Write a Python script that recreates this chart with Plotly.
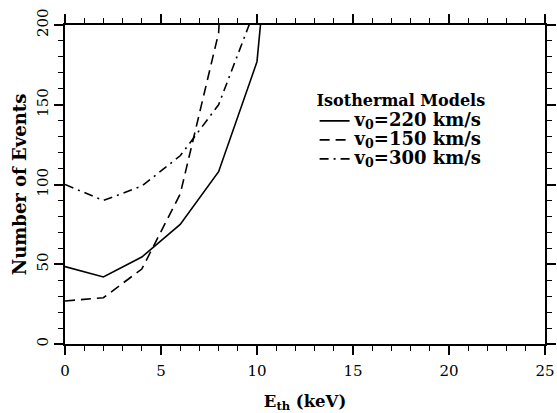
import plotly.graph_objects as go

# Data
e_th = [0, 2, 4, 6, 8, 10, 12]
n_220 = [48.5, 42, 54.5, 75, 108, 177, 433]
e_th_150 = [0, 2, 4, 6, 8, 10]
n_150 = [27, 29, 47, 94, 195, 600]
e_th_300 = [0, 2, 4, 6, 8, 10]
n_300 = [100, 90, 99, 118, 150, 213]

labels = ["v<sub>0</sub>=220 km/s", "v<sub>0</sub>=150 km/s", "v<sub>0</sub>=300 km/s"]
legend_title = "Isothermal Models"
x_range = [0, 25]
y_range = [0, 200]
x_major = [0, 5, 10, 15, 20, 25]
y_major = [0, 50, 100, 150, 200]

FONT = "DejaVu Serif"
names = ["<span style='font-size:18px'><b>%s</b></span>" % s for s in labels]

fig = go.Figure()
fig.add_trace(go.Scatter(x=e_th, y=n_220, mode="lines", name=names[0],
                         line=dict(color="black", width=1.6, dash="solid")))
fig.add_trace(go.Scatter(x=e_th_150, y=n_150, mode="lines", name=names[1],
                         line=dict(color="black", width=1.6, dash="10px,6px")))
fig.add_trace(go.Scatter(x=e_th_300, y=n_300, mode="lines", name=names[2],
                         line=dict(color="black", width=1.6, dash="9px,5px,2px,5px")))

minor_common = dict(ticks="outside", ticklen=5, tickwidth=1.2, tickcolor="black", showgrid=False)

fig.update_layout(
    template="none",
    width=557, height=413,
    margin=dict(l=65, r=12, t=25, b=69),
    paper_bgcolor="white", plot_bgcolor="white",
    font=dict(family=FONT, size=15, color="black"),
    showlegend=True,
    xaxis=dict(
        range=x_range, tickvals=x_major, showgrid=False, zeroline=False,
        showline=True, linecolor="black", linewidth=2, mirror="ticks",
        ticks="outside", ticklen=9, tickwidth=1.5, tickcolor="black",
        minor=dict(dtick=1, tick0=0, **minor_common),
        tickfont=dict(family=FONT, size=15, color="black"),
        tickprefix="<b>", ticksuffix="</b>", ticklabelstandoff=3,
        title=dict(text="<b>E<sub>th</sub> (keV)</b>", font=dict(family=FONT, size=16.5, color="black"), standoff=16),
    ),
    yaxis=dict(
        range=y_range, tickvals=y_major, tickangle=-90, showgrid=False, zeroline=False,
        showline=True, linecolor="black", linewidth=2, mirror="ticks",
        ticks="outside", ticklen=9, tickwidth=1.5, tickcolor="black",
        minor=dict(dtick=10, tick0=0, **minor_common),
        tickfont=dict(family=FONT, size=15, color="black"),
        tickprefix="<b>", ticksuffix="</b>",
        title=dict(text="<b>Number of Events</b>", font=dict(family=FONT, size=18, color="black"), standoff=3),
    ),
    legend=dict(
        x=0.52, y=0.81, xanchor="left", yanchor="top",
        bgcolor="rgba(0,0,0,0)", borderwidth=0,
        title=dict(text="<b>%s</b>" % legend_title, side="top", font=dict(family=FONT, size=16)),
        font=dict(family=FONT, size=12, color="black"),
        tracegroupgap=0, itemwidth=30,
    ),
)

fig.write_html("out.html")
